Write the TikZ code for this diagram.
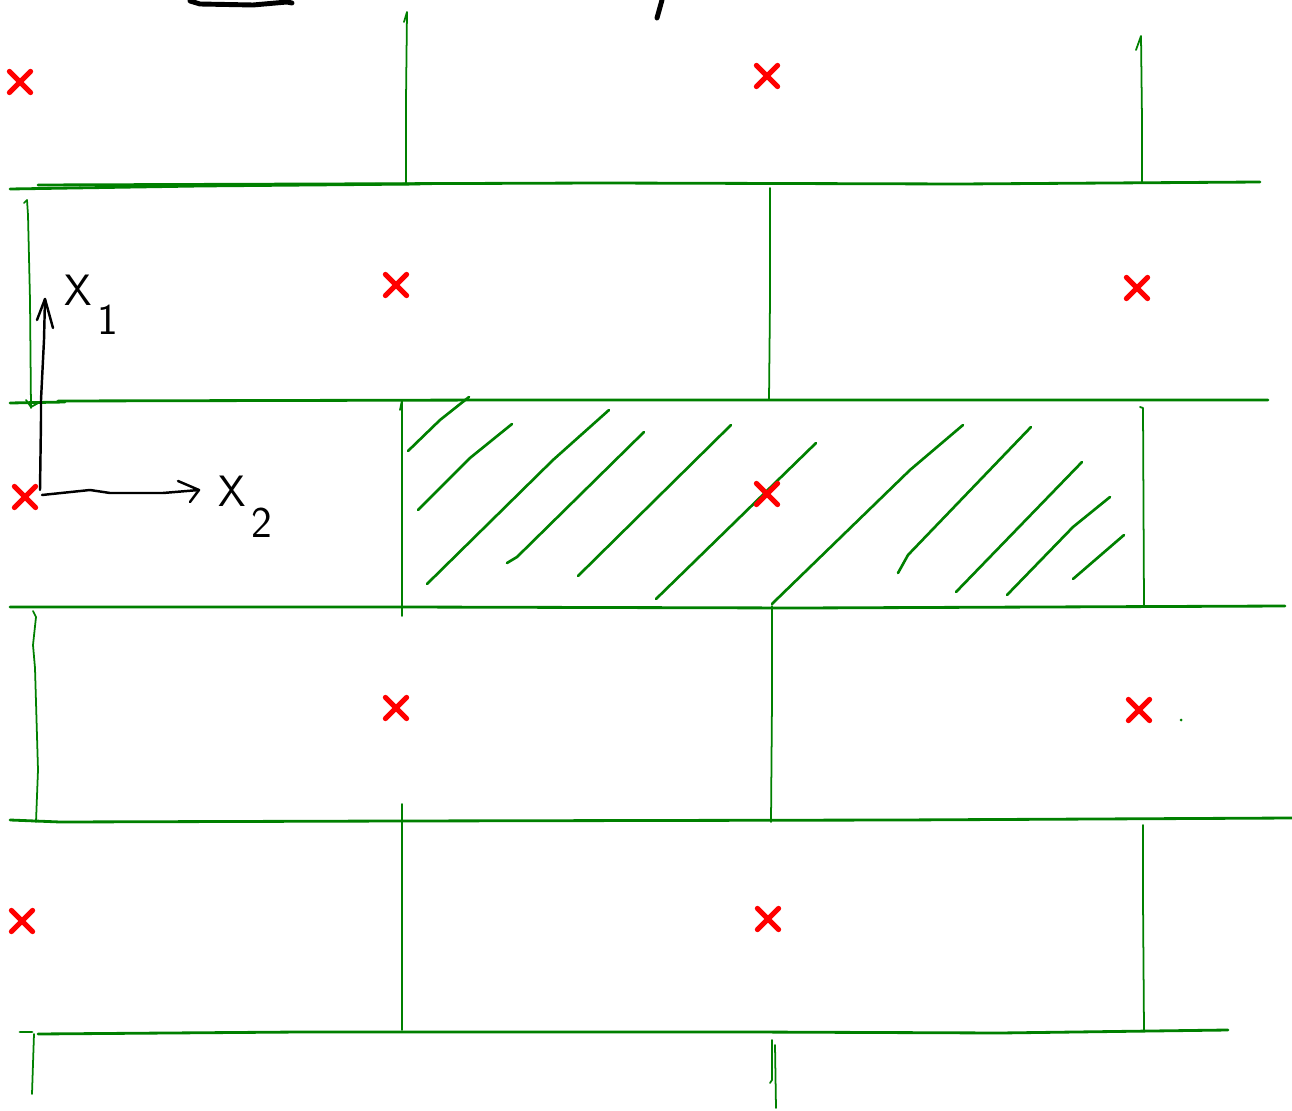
\documentclass[tikz,border=0pt]{standalone}
\usetikzlibrary{shapes.misc}
\definecolor{pen}{RGB}{0,128,0}
\begin{document}
\begin{tikzpicture}[x=0.02cm,y=-0.02cm, line cap=round, line join=round,
  hline/.style={draw=pen, line width=1.6pt},
  vline/.style={draw=pen, line width=1.0pt},
  hatch/.style={draw=pen, line width=1.5pt},
  ink/.style={draw=black, line width=2.8pt},
  axis/.style={draw=black, line width=1.4pt},
  redx/.style={cross out, draw=red, line width=3pt, minimum size=9pt, inner sep=0pt},
  lab/.style={inner sep=0pt, anchor=base west, font=\sffamily\fontsize{25}{28}\selectfont}]
\useasboundingbox (0,0) rectangle (1292,1111);

% fragments of cut-off writing at the top
\draw[ink] (190,1) -- (200,4) -- (253,5) -- (287,2) -- (292,3);
\draw[ink] (662,0) -- (657,18);

% horizontal mortar lines
\draw[hline] (10,189) -- (200,186) -- (420,184);
\draw[hline] (38,185) -- (600,183) -- (960,184) -- (1260,182);
\draw[hline] (10,403) -- (65,402);
\draw[hline] (58,401) -- (500,400) -- (1000,400) -- (1268,400);
\draw[hline] (10,607) -- (400,607) -- (800,608) -- (1285,606);
\draw[hline] (10,820) -- (60,822) -- (400,821) -- (900,820) -- (1292,818);
\draw[hline] (20,1032) -- (32,1032);
\draw[hline] (38,1034) -- (300,1032) -- (750,1032) -- (1000,1033) -- (1228,1030);

% vertical joints
\draw[vline] (404,22) -- (407,12) -- (406,100) -- (406,184);
\draw[vline] (1136,50) -- (1141,36) -- (1142,120) -- (1142,182);
\draw[vline] (24,203) -- (27,200) -- (28,215) -- (30,300) -- (31,408);
\draw[vline] (26,400) -- (31,407) -- (40,402);
\draw[vline] (770,188) -- (770,300) -- (769,400);
\draw[vline] (400,410) -- (402,400) -- (402,616);
\draw[vline] (1140,407) -- (1143,408) -- (1144,606);
\draw[vline] (33,611) -- (36,617) -- (33,645) -- (35,668) -- (38,770) -- (36,822);
\draw[vline] (772,606) -- (772,700) -- (771,822);
\draw[vline] (402,804) -- (402,1030);
\draw[vline] (1143,825) -- (1143,900) -- (1144,1030);
\draw[vline] (34,1034) -- (32,1094);
\draw[vline] (772,1040) -- (772,1080) -- (770,1083);
\draw[vline] (775,1045) -- (776,1108);

% hatching of the highlighted brick
\draw[hatch] (408,451) -- (440,420) -- (469,397);
\draw[hatch] (418,510) -- (470,458) -- (512,424);
\draw[hatch] (427,584) -- (553,460) -- (609,410);
\draw[hatch] (507,563) -- (517,557) -- (644,432);
\draw[hatch] (578,576) -- (731,425);
\draw[hatch] (656,599) -- (816,443);
\draw[hatch] (772,604) -- (775,601) -- (910,470) -- (963,425);
\draw[hatch] (898,573) -- (908,555) -- (1031,427);
\draw[hatch] (956,592) -- (1082,462);
\draw[hatch] (1007,595) -- (1073,527) -- (1110,497);
\draw[hatch] (1073,579) -- (1124,535);

% small dot
\fill[pen] (1181,720) circle (1.5);

% red crosses (brick centres)
\node[redx] (c11) at (20,82) {};
\node[redx] (c12) at (767,76) {};
\node[redx] (c21) at (396,285) {};
\node[redx] (c22) at (1137,288) {};
\node[redx] (c31) at (25,497) {};
\node[redx] (c32) at (767,494) {};
\node[redx] (c41) at (396,708) {};
\node[redx] (c42) at (1139,710) {};
\node[redx] (c51) at (22,921) {};
\node[redx] (c52) at (768,919) {};

% axes
\coordinate (o) at (40,490);
\coordinate (t1) at (45,299);
\coordinate (t2) at (199,490);
\draw[axis] (o) -- (41,420) -- (41,400) -- (44,340) -- (t1);
\draw[axis] (37,320) -- (t1) -- (53,328);
\draw[axis] (42,495) -- (90,490) -- (110,493) -- (163,493) -- (t2);
\draw[axis] (178,481) -- (t2) -- (190,502);
\node[lab] (x1) at (64,306) {X\kern3pt\raisebox{-16pt}{1}};
\node[lab] (x2) at (218,506) {X\kern3pt\raisebox{-18pt}{2}};
\end{tikzpicture}
\end{document}
